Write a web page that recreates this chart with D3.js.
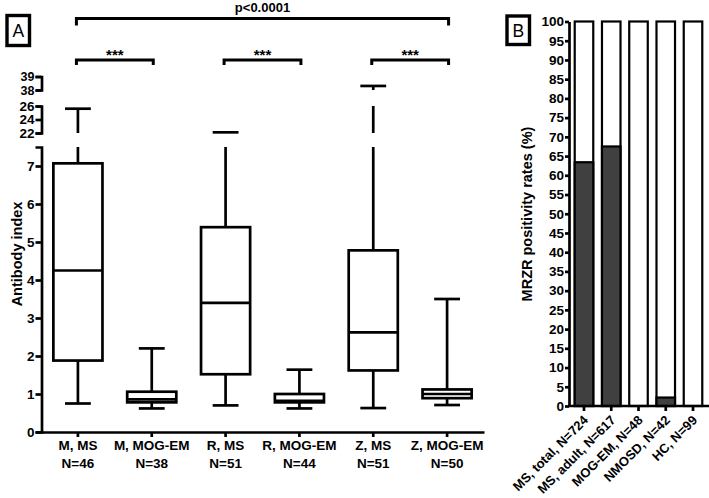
<!DOCTYPE html>
<html lang="en">
<head>
<meta charset="utf-8">
<script src="https://d3js.org/d3.v7.min.js"></script>
<style>
  body { margin: 0; background: #fff; }
  svg { font-family: "Liberation Sans", Arial, sans-serif; }
  .ax path, .ax line { stroke: #000; stroke-width: 2.7; }
  .ax text { font-weight: bold; fill: #000; }
</style>
</head>
<body>
<script>
// ---- panel A data (box plots) ----
var groupsA = ["M, MS", "M, MOG-EM", "R, MS", "R, MOG-EM", "Z, MS", "Z, MOG-EM"];
var countsA = [46, 38, 51, 44, 51, 50];
var whiskLo = [0.75, 0.62, 0.70, 0.62, 0.63, 0.71];
var q1      = [1.88, 0.78, 1.52, 0.78, 1.62, 0.89];
var med     = [4.25, 0.86, 3.40, 0.82, 2.62, 1.00];
var q3      = [7.07, 1.06, 5.39, 1.00, 4.78, 1.12];
var whiskHi = [25.6, 2.20, 22.1, 1.64, 38.3, 3.50];
// broken y axis pieces
var segDomains = [[0, 7.5], [22, 26], [38, 39]];
var segTicks = [[0, 1, 2, 3, 4, 5, 6, 7], [22, 24, 26], [38, 39]];

// ---- panel B data (stacked percentage bars) ----
var groupsB = ["MS, total, N=724", "MS, adult, N=617", "MOG-EM, N=48", "NMOSD, N=42", "HC, N=99"];
var positive = [63.4, 67.5, 0, 2.2, 0];

var W = 709, H = 498;
var svg = d3.select("body").append("svg").attr("width", W).attr("height", H);

// ================= panel A =================
var segRanges = [[432, 147], [133, 106], [90, 76.5]];
var segScales = segDomains.map(function(d, i) {
  return d3.scaleLinear().domain(d).range(segRanges[i]);
});
function yA(v) {
  for (var i = 0; i < segDomains.length; i++) {
    if (v >= segDomains[i][0] && v <= segDomains[i][1]) return segScales[i](v);
  }
  return null;
}
var xA = d3.scaleBand().domain(groupsA).range([41, 484]);
var boxW = xA.bandwidth() * 0.665, capW = xA.bandwidth() * 0.35;

// y axis pieces
segScales.forEach(function(s, i) {
  svg.append("g").attr("class", "ax").attr("transform", "translate(41.5,0)")
    .call(d3.axisLeft(s).tickValues(segTicks[i]).tickSize(6).tickSizeOuter(6).tickPadding(1).tickFormat(d3.format("d")))
    .selectAll("text").style("font-size", i == 2 ? "12.5px" : "13.5px");
});
// x axis
var gx = svg.append("g").attr("class", "ax").attr("transform", "translate(0,432)")
  .call(d3.axisBottom(xA).tickSize(5).tickSizeOuter(0).tickFormat(""));
gx.selectAll(".tick").each(function(d, i) {
  var t = d3.select(this).append("text").attr("text-anchor", "middle").style("font-size", "13.5px");
  t.append("tspan").attr("x", 0).attr("y", 18).text(d);
  t.append("tspan").attr("x", 0).attr("y", 35.5).text("N=" + countsA[i]);
});

svg.append("text").attr("transform", "translate(22,254) rotate(-90)")
  .attr("text-anchor", "middle").style("font-size", "14.5px").style("font-weight", "bold")
  .text("Antibody index");

// draw a vertical line between two values, split across axis pieces
function vline(g, x, a, b) {
  segDomains.forEach(function(d, i) {
    var lo = Math.max(a, d[0]), hi = Math.min(b, d[1]);
    if (lo < hi) {
      g.append("line").attr("x1", x).attr("x2", x)
        .attr("y1", segScales[i](lo)).attr("y2", segScales[i](hi));
    }
  });
}

var boxes = svg.append("g").attr("stroke", "#000").attr("stroke-width", 2.7).attr("fill", "none");
groupsA.forEach(function(g, i) {
  var cx = xA(g) + xA.bandwidth() / 2;
  var bg = boxes.append("g");
  vline(bg, cx, whiskLo[i], q1[i]);
  vline(bg, cx, q3[i], whiskHi[i]);
  bg.append("line").attr("x1", cx - capW / 2).attr("x2", cx + capW / 2)
    .attr("y1", yA(whiskLo[i])).attr("y2", yA(whiskLo[i]));
  bg.append("line").attr("x1", cx - capW / 2).attr("x2", cx + capW / 2)
    .attr("y1", yA(whiskHi[i])).attr("y2", yA(whiskHi[i]));
  bg.append("rect").attr("x", cx - boxW / 2).attr("width", boxW)
    .attr("y", yA(q3[i])).attr("height", yA(q1[i]) - yA(q3[i])).attr("fill", "#fff");
  bg.append("line").attr("x1", cx - boxW / 2).attr("x2", cx + boxW / 2)
    .attr("y1", yA(med[i])).attr("y2", yA(med[i]));
});

// significance brackets
var brackets = [
  {a: 0, b: 5, y: 18.5, drop: 7, label: "p<0.0001", size: "13px", dy: -6.5},
  {a: 0, b: 1, y: 60, drop: 5, label: "***", size: "15px", dy: 0},
  {a: 2, b: 3, y: 60, drop: 5, label: "***", size: "15px", dy: 0},
  {a: 4, b: 5, y: 60, drop: 5, label: "***", size: "15px", dy: 0}
];
brackets.forEach(function(br) {
  var x1 = xA(groupsA[br.a]) + xA.bandwidth() / 2 - 1.5;
  var x2 = xA(groupsA[br.b]) + xA.bandwidth() / 2 + 1.5;
  svg.append("path").attr("fill", "none").attr("stroke", "#000").attr("stroke-width", 3)
    .attr("d", "M" + x1 + "," + (br.y + br.drop) + "V" + br.y + "H" + x2 + "V" + (br.y + br.drop));
  svg.append("text").attr("x", (x1 + x2) / 2).attr("y", br.y + br.dy)
    .attr("text-anchor", "middle").style("font-size", br.size).style("font-weight", "bold")
    .text(br.label);
});

// panel letters
function panelLetter(x, y, w, h, txt) {
  svg.append("rect").attr("x", x).attr("y", y).attr("width", w).attr("height", h)
    .attr("fill", "#fff").attr("stroke", "#000").attr("stroke-width", 3.4);
  svg.append("text").attr("x", x + w / 2).attr("y", y + h / 2 + 6.3)
    .attr("text-anchor", "middle").style("font-size", "17.5px").text(txt);
}
panelLetter(7, 15.5, 22.5, 30, "A");
panelLetter(507, 16, 22.5, 28.5, "B");

// ================= panel B =================
var yB = d3.scaleLinear().domain([0, 100]).range([406, 21.5]);
var xB = d3.scaleBand().domain(groupsB).range([566, 711]).paddingInner(0.32).paddingOuter(0.32);

var bars = svg.append("g").attr("stroke", "#000").attr("stroke-width", 2.2);
groupsB.forEach(function(g, i) {
  bars.append("rect").attr("x", xB(g)).attr("width", xB.bandwidth())
    .attr("y", yB(100)).attr("height", yB(0) - yB(100)).attr("fill", "#fff");
  if (positive[i] > 0) {
    bars.append("rect").attr("x", xB(g)).attr("width", xB.bandwidth())
      .attr("y", yB(positive[i])).attr("height", yB(0) - yB(positive[i])).attr("fill", "#404040");
  }
});

svg.append("g").attr("class", "ax").attr("transform", "translate(569,0)")
  .call(d3.axisLeft(yB).tickValues(d3.range(0, 101, 5)).tickSize(4).tickSizeOuter(0).tickPadding(1))
  .selectAll("text").style("font-size", "13.5px");

var gxB = svg.append("g").attr("class", "ax").attr("transform", "translate(0,406)")
  .call(d3.axisBottom(xB).tickSize(5).tickSizeOuter(0));
gxB.select(".domain").attr("d", "M568,0H709");
gxB.selectAll(".tick text").attr("y", 0).attr("dy", 0)
  .attr("text-anchor", "end").style("font-size", "13px")
  .attr("transform", "translate(5,15) rotate(-45)");

svg.append("text").attr("transform", "translate(532,214) rotate(-90)")
  .attr("text-anchor", "middle").style("font-size", "14.5px").style("font-weight", "bold")
  .text("MRZR positivity rates (%)");
</script>
</body>
</html>
